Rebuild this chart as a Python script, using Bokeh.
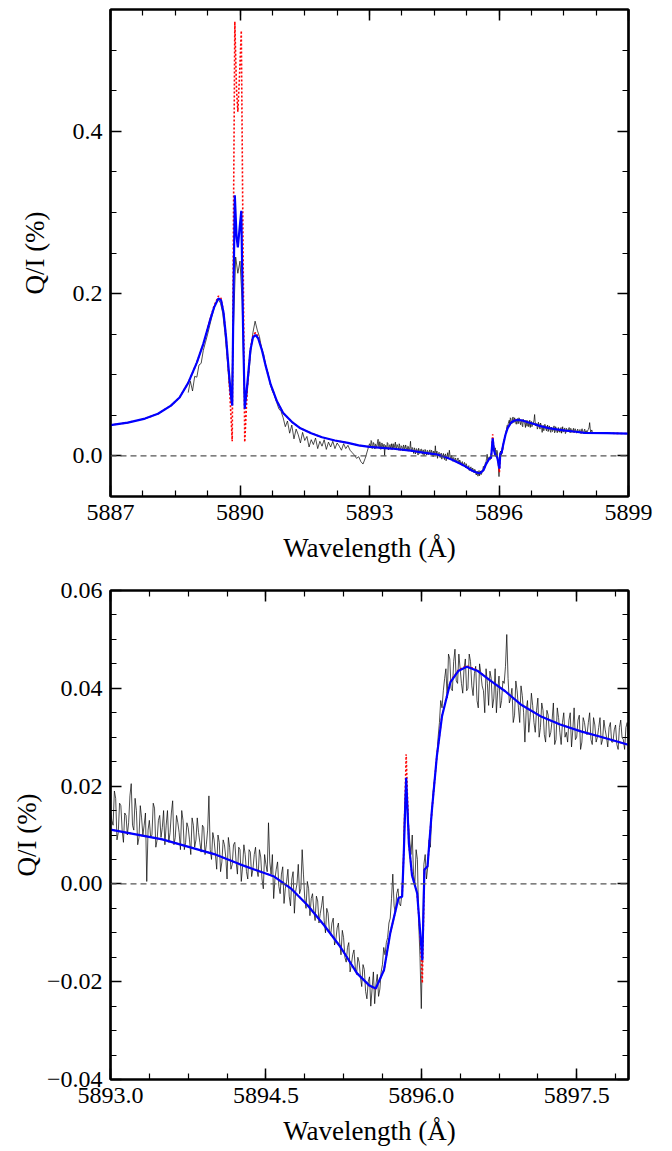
import numpy as np
from bokeh.plotting import figure
from bokeh.layouts import column
from bokeh.models import (FixedTicker, LinearAxis, Span, CustomJSTickFormatter,
                          Range1d, ColumnDataSource)
from bokeh.embed import file_html
from bokeh.resources import INLINE

# ---------------- data ----------------
# Observed Q/I (%) – coarse part (step 0.05 A, from 5888.80 A)
obs_coarse_start = 5888.80
obs_coarse_step = 0.05
obs_coarse = [
    0.078, 0.092, 0.080, 0.098, 0.097, 0.112, 0.114, 0.130,
    0.140, 0.150, 0.161, 0.172, 0.182, 0.190, 0.193, 0.188,
    0.176, 0.152, 0.122, 0.088, 0.066, 0.160, 0.245, 0.225,
    0.240, 0.190, 0.075, 0.070, 0.098, 0.128, 0.152, 0.166,
    0.155, 0.147, 0.133, 0.125, 0.110, 0.102, 0.088, 0.080,
    0.074, 0.066, 0.058, 0.055, 0.047, 0.036, 0.043, 0.028,
    0.038, 0.021, 0.033, 0.026, 0.016, 0.029, 0.019, 0.024,
    0.011, 0.020, 0.014, 0.022, 0.009, 0.018, 0.012, 0.020,
    0.008, 0.017, 0.011, 0.018, 0.009, 0.016, 0.012, 0.007,
    0.015, 0.009, 0.013, 0.007, 0.004, 0.001, -0.003, -0.001,
    -0.007, -0.010, -0.003, 0.006,
]
# Observed Q/I (%) – fine part (step 0.025 A, from 5893.000 A)
obs_fine_start = 5893.0
obs_fine_step = 0.025
obs_fine = [
    0.0150, 0.0120, 0.0175, 0.0105, 0.0160, 0.0085, 0.0140, 0.0125,
    0.0205, 0.0110, 0.0150, 0.0095, 0.0135, 0.0120, 0.0005, 0.0130,
    0.0100, 0.0155, 0.0090, 0.0140, 0.0115, 0.0080, 0.0150, 0.0105,
    0.0170, 0.0095, 0.0125, 0.0070, 0.0130, 0.0085, 0.0115, 0.0060,
    0.0120, 0.0090, 0.0105, 0.0065, 0.0115, 0.0080, 0.0180, 0.0050,
    0.0090, 0.0030, 0.0085, 0.0045, 0.0080, 0.0010, 0.0075, 0.0040,
    0.0085, 0.0020, 0.0070, 0.0035, 0.0060, 0.0010, 0.0065, 0.0030,
    0.0075, 0.0015, 0.0055, -0.0010, 0.0040, 0.0125, 0.0020, -0.0030,
    0.0030, -0.0005, 0.0020, -0.0040, 0.0005, -0.0025, 0.0010, -0.0060,
    0.0000, -0.0020, 0.0070, -0.0030, 0.0005, -0.0065, -0.0020, -0.0075,
    -0.0035, -0.0060, -0.0025, -0.0100, -0.0060, -0.0105, -0.0070, -0.0115,
    -0.0080, -0.0145, -0.0110, -0.0160, -0.0120, -0.0165, -0.0135, -0.0185,
    -0.0160, -0.0210, -0.0175, -0.0235, -0.0190, -0.0215, -0.0245, -0.0185,
    -0.0215, -0.0165, -0.0145, -0.0110, -0.0070, 0.0020, -0.0060, -0.0010,
    -0.0045, 0.0030, 0.0200, 0.0130, 0.0060, 0.0020, 0.0070, -0.0080,
    -0.0255, 0.0040, 0.0010, 0.0090, 0.0140, 0.0210, 0.0260, 0.0330,
    0.0360, 0.0420, 0.0380, 0.0460, 0.0395, 0.0480, 0.0410, 0.0440,
    0.0390, 0.0460, 0.0400, 0.0455, 0.0385, 0.0445, 0.0360, 0.0430,
    0.0395, 0.0440, 0.0365, 0.0420, 0.0380, 0.0350, 0.0425, 0.0375,
    0.0410, 0.0510, 0.0370, 0.0400, 0.0345, 0.0395, 0.0330, 0.0385,
    0.0290, 0.0375, 0.0340, 0.0365, 0.0310, 0.0380, 0.0320, 0.0355,
    0.0290, 0.0345, 0.0310, 0.0370, 0.0295, 0.0340, 0.0285, 0.0350,
    0.0310, 0.0335, 0.0280, 0.0360, 0.0300, 0.0345, 0.0290, 0.0330,
    0.0305, 0.0350, 0.0285, 0.0325, 0.0300, 0.0340, 0.0295, 0.0315,
    0.0280, 0.0330, 0.0290, 0.0325, 0.0275, 0.0335, 0.0295, 0.0320,
    0.0285, 0.0310, 0.0300, 0.0330, 0.0410, 0.0290, 0.0320,
]
# Observed Q/I (%) – samples half-way between the fine ones (from 5893.0125 A)
obs_mid_start = 5893.0125
obs_mid = [
    0.0130, 0.0190, 0.0090, 0.0165, 0.0110, 0.0145, 0.0100, 0.0180,
    0.0120, 0.0175, 0.0080, 0.0160, 0.0100, 0.0145, 0.0110, 0.0095,
    0.0165, 0.0075, 0.0130, 0.0095, 0.0150, 0.0120, 0.0085, 0.0145,
    0.0080, 0.0140, 0.0105, 0.0150, 0.0070, 0.0125, 0.0090, 0.0135,
    0.0075, 0.0135, 0.0085, 0.0120, 0.0060, 0.0110, 0.0070, 0.0105,
    0.0060, 0.0100, 0.0025, 0.0090, 0.0055, 0.0095, 0.0030, 0.0080,
    0.0045, 0.0075, 0.0005, 0.0080, 0.0025, 0.0070, 0.0015, 0.0060,
    0.0030, 0.0070, 0.0010, 0.0060, 0.0025, 0.0045, 0.0060, 0.0010,
    0.0045, -0.0020, 0.0035, -0.0010, 0.0030, -0.0045, 0.0025, -0.0015,
    0.0040, -0.0010, 0.0020, -0.0050, -0.0010, -0.0030, -0.0055, -0.0025,
    -0.0080, -0.0045, -0.0075, -0.0050, -0.0095, -0.0080, -0.0125, -0.0090,
    -0.0120, -0.0095, -0.0150, -0.0130, -0.0180, -0.0145, -0.0170, -0.0150,
    -0.0190, -0.0165, -0.0220, -0.0200, -0.0250, -0.0180, -0.0205, -0.0230,
    -0.0180, -0.0130, -0.0120, -0.0080, -0.0030, -0.0045, -0.0020, -0.0040,
    -0.0020, 0.0150, 0.0185, 0.0090, 0.0100, 0.0000, 0.0050, -0.0150,
    -0.0120, 0.0060, 0.0035, 0.0075, 0.0185, 0.0230, 0.0300, 0.0375,
    0.0395, 0.0440, 0.0470, 0.0400, 0.0455, 0.0415, 0.0470, 0.0410,
    0.0440, 0.0395, 0.0470, 0.0405, 0.0430, 0.0375, 0.0450, 0.0405,
    0.0350, 0.0410, 0.0435, 0.0360, 0.0440, 0.0395, 0.0360, 0.0415,
    0.0445, 0.0420, 0.0380, 0.0330, 0.0415, 0.0360, 0.0405, 0.0350,
    0.0355, 0.0310, 0.0390, 0.0330, 0.0355, 0.0300, 0.0370, 0.0305,
    0.0355, 0.0300, 0.0335, 0.0285, 0.0360, 0.0310, 0.0330, 0.0300,
    0.0290, 0.0350, 0.0315, 0.0295, 0.0335, 0.0275, 0.0340, 0.0310,
    0.0330, 0.0295, 0.0340, 0.0290, 0.0320, 0.0285, 0.0335, 0.0300,
    0.0320, 0.0290, 0.0315, 0.0285, 0.0320, 0.0300, 0.0275, 0.0330,
    0.0305, 0.0280, 0.0325, 0.0355, 0.0340, 0.0305, 0.0295,
]

# Model profiles (blue solid, red dotted)
model_wave = [
    5887.0, 5887.4, 5887.8, 5888.1, 5888.4, 5888.6, 5888.8, 5889.0,
    5889.15, 5889.3, 5889.4, 5889.5, 5889.56, 5889.62, 5889.68, 5889.74,
    5889.79, 5889.82, 5889.85, 5889.88, 5889.92, 5889.95, 5889.99, 5890.03,
    5890.07, 5890.11, 5890.17, 5890.24, 5890.30, 5890.36, 5890.42, 5890.51,
    5890.60, 5890.71, 5890.85, 5891.0, 5891.2, 5891.4, 5891.65, 5891.9,
    5892.2, 5892.5, 5892.75, 5893.0, 5893.5, 5894.0, 5894.25, 5894.58,
    5894.74, 5894.90, 5895.06, 5895.22, 5895.38, 5895.50, 5895.56, 5895.64,
    5895.70, 5895.78, 5895.815, 5895.83, 5895.854, 5895.88, 5895.91, 5895.96,
    5895.99, 5896.01, 5896.03, 5896.06, 5896.10, 5896.15, 5896.20, 5896.28,
    5896.36, 5896.44, 5896.54, 5896.67, 5896.81, 5896.96, 5897.15, 5897.34,
    5897.54, 5897.73, 5897.99, 5898.5, 5899.0,
]
model_blue = [
    0.038, 0.041, 0.046, 0.052, 0.062, 0.072, 0.090, 0.115,
    0.138, 0.166, 0.183, 0.194, 0.192, 0.176, 0.145, 0.105,
    0.075, 0.062, 0.200, 0.321, 0.270, 0.257, 0.280, 0.302,
    0.160, 0.058, 0.089, 0.130, 0.146, 0.149, 0.145, 0.130,
    0.110, 0.088, 0.068, 0.053, 0.042, 0.034, 0.028, 0.023,
    0.019, 0.016, 0.013, 0.0111, 0.0091, 0.0061, 0.0040, 0.0015,
    -0.0009, -0.0043, -0.0084, -0.0129, -0.0183, -0.0208, -0.0214, -0.0176,
    -0.0101, -0.0029, -0.0026, 0.0056, 0.0217, 0.0083, 0.0018, -0.0019,
    -0.0101, -0.0156, 0.0029, 0.0036, 0.0145, 0.0261, 0.0343, 0.0412,
    0.0436, 0.0444, 0.0436, 0.0415, 0.0394, 0.0367, 0.0343, 0.0326,
    0.0312, 0.0301, 0.0285, 0.0280, 0.0275,
]
model_red = [
    0.038, 0.041, 0.046, 0.052, 0.062, 0.072, 0.090, 0.115,
    0.138, 0.167, 0.185, 0.197, 0.194, 0.177, 0.144, 0.100,
    0.050, 0.018, 0.300, 0.535, 0.450, 0.424, 0.470, 0.524,
    0.260, 0.017, 0.085, 0.131, 0.149, 0.152, 0.147, 0.130,
    0.110, 0.088, 0.068, 0.053, 0.042, 0.034, 0.028, 0.023,
    0.019, 0.016, 0.013, 0.0111, 0.0091, 0.0061, 0.0040, 0.0015,
    -0.0009, -0.0043, -0.0084, -0.0129, -0.0183, -0.0209, -0.0215, -0.0176,
    -0.0101, -0.0029, -0.0026, 0.0060, 0.0265, 0.0083, 0.0018, -0.0019,
    -0.0105, -0.0203, 0.0029, 0.0036, 0.0145, 0.0261, 0.0345, 0.0414,
    0.0438, 0.0446, 0.0437, 0.0415, 0.0394, 0.0367, 0.0343, 0.0326,
    0.0312, 0.0301, 0.0285, 0.0280, 0.0275,
]

# Axes / ticks / texts
top_xticks = [5887, 5890, 5893, 5896, 5899]
top_yticks = [0.0, 0.2, 0.4]
bot_xticks = [5893.0, 5894.5, 5896.0, 5897.5]
bot_yticks = [-0.04, -0.02, 0.0, 0.02, 0.04, 0.06]
xlabel = "Wavelength (Å)"
ylabel = "Q/I (%)"

# ---------------- build ----------------
obs_wave = np.concatenate([
    obs_coarse_start + obs_coarse_step * np.arange(len(obs_coarse)),
    obs_fine_start + obs_fine_step * np.arange(len(obs_fine)),
    obs_mid_start + obs_fine_step * np.arange(len(obs_mid)),
])
obs_val = np.array(obs_coarse + obs_fine + obs_mid)
order = np.argsort(obs_wave, kind="stable")
obs_src = ColumnDataSource(dict(x=obs_wave[order], y=obs_val[order]))
mod_src = ColumnDataSource(dict(x=model_wave, b=model_blue, r=model_red))

FONT = "Liberation Serif"


def fmt(code):
    return CustomJSTickFormatter(code=code)


def style_axis(ax, ticker, formatter, labels=True):
    ax.ticker = ticker
    ax.formatter = formatter if labels else fmt("return '';")
    ax.major_tick_in = 11
    ax.major_tick_out = 0
    ax.minor_tick_in = 6
    ax.minor_tick_out = 0
    ax.major_tick_line_width = 1.5
    ax.minor_tick_line_width = 1.2
    ax.major_tick_line_color = "black"
    ax.minor_tick_line_color = "black"
    ax.axis_line_width = 2.2
    ax.axis_line_color = "black"
    ax.major_label_text_font = FONT
    ax.major_label_text_font_size = "24px"
    ax.major_label_text_color = "black"
    ax.major_label_standoff = 8 if labels else 0
    ax.axis_label_text_font = FONT
    ax.axis_label_text_font_size = "27px"
    ax.axis_label_text_font_style = "normal"
    ax.axis_label_text_color = "black"


def make_panel(xr, yr, xt, xminor, yt, yminor, xfmt, yfmt, mb_top, mb_bottom,
               ylab_standoff, frame_h):
    p = figure(frame_width=518, frame_height=frame_h,
               x_range=Range1d(*xr), y_range=Range1d(*yr),
               output_backend="svg", toolbar_location=None,
               min_border_left=110, min_border_right=36,
               min_border_top=mb_top, min_border_bottom=mb_bottom)
    p.xgrid.grid_line_color = None
    p.ygrid.grid_line_color = None
    p.outline_line_color = "black"
    p.outline_line_width = 2.2
    p.background_fill_color = "white"

    xtick = FixedTicker(ticks=xt, minor_ticks=xminor)
    ytick = FixedTicker(ticks=yt, minor_ticks=yminor)
    style_axis(p.xaxis[0], xtick, fmt(xfmt))
    style_axis(p.yaxis[0], ytick, fmt(yfmt))
    p.xaxis[0].axis_label = xlabel
    p.xaxis[0].axis_label_standoff = 10
    p.yaxis[0].axis_label = ylabel
    p.yaxis[0].axis_label_standoff = ylab_standoff

    right = LinearAxis()
    style_axis(right, ytick, None, labels=False)
    p.add_layout(right, "right")
    above = LinearAxis()
    style_axis(above, xtick, None, labels=False)
    p.add_layout(above, "above")

    p.add_layout(Span(location=0, dimension="width", line_color="#555555",
                      line_width=1.2, line_dash="6 4"))
    p.line("x", "y", source=obs_src, line_color="black", line_width=0.7)
    p.line("x", "r", source=mod_src, line_color="red", line_width=1.6,
           line_dash="2 2")
    p.line("x", "b", source=mod_src, line_color="blue", line_width=2.2)
    return p


top_minor_x = list(np.arange(5887.0, 5899.01, 0.75))
top_minor_y = list(np.round(np.arange(-0.05, 0.5501, 0.05), 3))
bot_minor_x = list(np.arange(5893.0, 5898.01, 0.375))
bot_minor_y = list(np.round(np.arange(-0.04, 0.0601, 0.005), 4))

p1 = make_panel((5887, 5899), (-0.05, 0.55), top_xticks, top_minor_x,
                top_yticks, top_minor_y,
                "return tick.toFixed(0);", "return tick.toFixed(1);",
                9, 75, 20, 487)
p2 = make_panel((5893.0, 5898.0), (-0.04, 0.06), bot_xticks, bot_minor_x,
                bot_yticks, bot_minor_y,
                "return tick.toFixed(1);",
                "return (tick < -1e-9 ? '\u2212' : '') + Math.abs(tick).toFixed(2);",
                19, 68, 2, 489)

layout = column(p1, p2, spacing=0)
open("out.html", "w").write(file_html(layout, INLINE))
